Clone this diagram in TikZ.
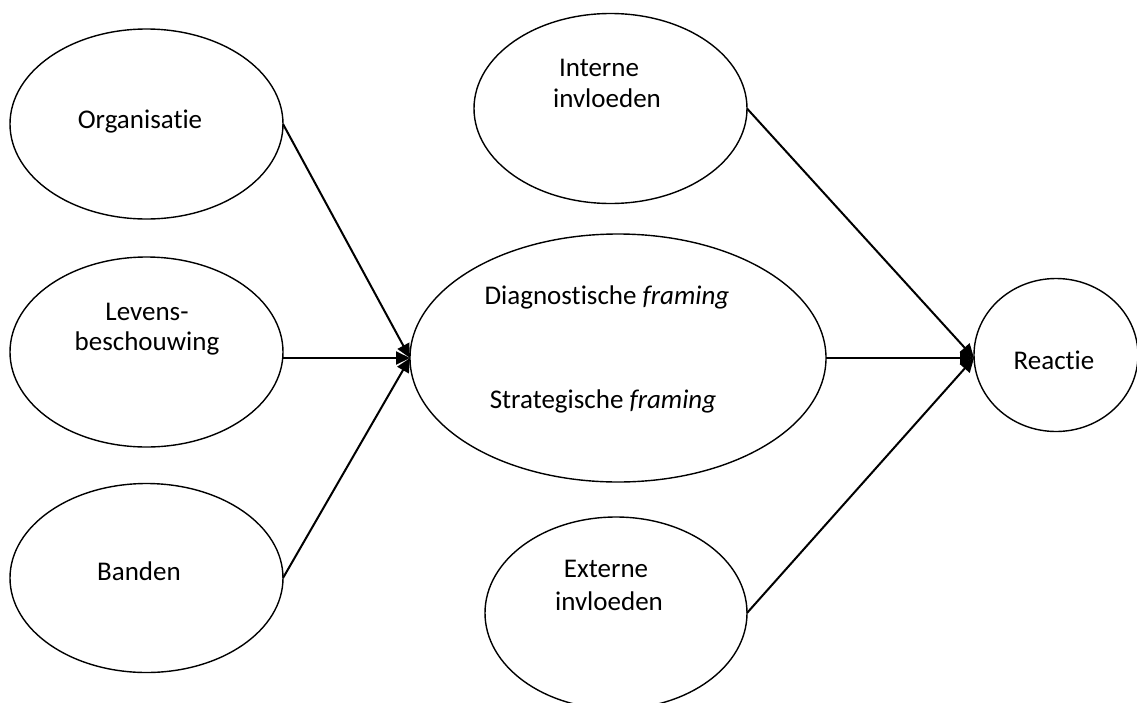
\documentclass[tikz,border=0pt]{standalone}
\usepackage{fontspec}
\setmainfont{Carlito}[Ligatures=NoCommon]
\usetikzlibrary{shapes.geometric,arrows.meta}
\begin{document}
\begin{tikzpicture}[x=1pt,y=-1pt,
  oval/.style={draw,ellipse,line width=1.4pt,inner sep=0pt,outer sep=0pt},
  lbl/.style={anchor=base,inner sep=0pt,font=\fontsize{27}{32}\selectfont},
  link/.style={line width=2pt,-{Triangle[length=14pt,width=13pt]}}]
\useasboundingbox (0,0) rectangle (1137,702);
% ellipses
\node[oval,minimum width=273pt,minimum height=190pt] (org) at (146.5,124) {};
\node[oval,minimum width=273pt,minimum height=190pt] (lev) at (146.5,352) {};
\node[oval,minimum width=273pt,minimum height=189pt] (ban) at (146.5,578) {};
\node[oval,minimum width=273pt,minimum height=190pt] (int) at (610.5,108.5) {};
\node[oval,minimum width=416pt,minimum height=248pt] (cen) at (618,358) {};
\node[oval,minimum width=262pt,minimum height=192pt] (ext) at (616,613) {};
\node[oval,minimum width=164pt,minimum height=153pt] (rea) at (1056,355) {};
% labels
\node[lbl] (torg) at (140,128) {Organisatie};
\node[lbl] (tlev1) at (147,320) {Levens-};
\node[lbl] (tlev2) at (147,350) {beschouwing};
\node[lbl] (tban) at (139,580) {Banden};
\node[lbl] (tint1) at (599,76) {Interne};
\node[lbl] (tint2) at (607,107) {invloeden};
\node[lbl] (tcen1) at (607,304) {Diagnostische \textit{framing}};
\node[lbl] (tcen2) at (603,408) {Strategische \textit{framing}};
\node[lbl] (text1) at (606,577) {Externe};
\node[lbl] (text2) at (609,610) {invloeden};
\node[lbl] (trea) at (1054,369) {Reactie};
% connectors
\draw[link] (org.east) -- (cen.west);
\draw[link] (cen.west -| lev.east) -- (cen.west);
\draw[link] (ban.east) -- (cen.west);
\draw[link] (int.east) -- (rea.west |- cen.east);
\draw[link] (cen.east) -- (rea.west |- cen.east);
\draw[link] (ext.east) -- (rea.west |- cen.east);
\end{tikzpicture}
\end{document}
